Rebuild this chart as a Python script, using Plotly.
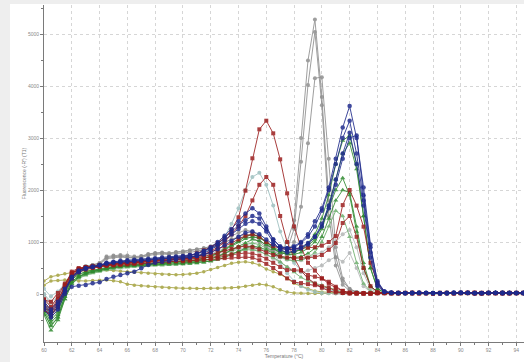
import plotly.graph_objects as go

temperature = [60.0, 60.5, 61.0, 61.5, 62.0, 62.5, 63.0, 63.5, 64.0, 64.5,
               65.0, 65.5, 66.0, 66.5, 67.0, 67.5, 68.0, 68.5, 69.0, 69.5,
               70.0, 70.5, 71.0, 71.5, 72.0, 72.5, 73.0, 73.5, 74.0, 74.5,
               75.0, 75.5, 76.0, 76.5, 77.0, 77.5, 78.0, 78.5, 79.0, 79.5,
               80.0, 80.5, 81.0, 81.5, 82.0, 82.5, 83.0, 83.5, 84.0, 84.5,
               85.0, 85.5, 86.0, 86.5, 87.0, 87.5, 88.0, 88.5, 89.0, 89.5,
               90.0, 90.5, 91.0, 91.5, 92.0, 92.5, 93.0, 93.5, 94.0, 94.5, 95.0]

olive_1 = [250, 333, 360, 390, 420, 440, 450, 455, 460, 460, 450, 440, 430, 420, 410, 400, 390, 380, 375, 370,
           375, 385, 400, 430, 470, 510, 550, 590, 610, 620, 600, 560, 480, 430, 380, 300, 205, 150, 100, 60,
           40, 30, 20, 15, 10, 10, 10, 10, 15, 20, 15, 10, 15, 20, 15, 10, 15, 20, 25, 20, 15, 10, 15, 20, 15, 10, 15, 20, 15, 10, 15]
olive_2 = [170, 250, 260, 270, 260, 250, 250, 260, 265, 270, 255, 236, 190, 170, 160, 150, 140, 130, 122, 115,
           110, 110, 105, 105, 110, 110, 115, 120, 130, 150, 170, 190, 173, 140, 80, 40, 20, 15, 10, 10,
           10, 10, 10, 10, 10, 10, 10, 10, 10, 15, 20, 15, 10, 15, 20, 15, 10, 15, 20, 15, 10, 15, 20, 25, 20, 15, 10, 15, 20, 15, 10]
gray_4 = [-50, -250, -150, 100, 300, 420, 480, 520, 540, 580, 600, 620, 630, 640, 650, 660, 670, 680, 690, 700,
          710, 720, 730, 740, 760, 790, 830, 870, 900, 930, 920, 880, 820, 760, 700, 660, 640, 650, 700, 750,
          800, 900, 1000, 1150, 1230, 900, 400, 100, 30, 20, 15, 20, 25, 20, 15, 10, 20, 25, 20, 15, 20, 25, 30, 25, 20, 15, 20, 25, 30, 25, 20]
gray_5 = [0, -200, -100, 150, 330, 430, 480, 510, 530, 560, 580, 590, 600, 610, 620, 630, 640, 650, 650, 660,
          670, 680, 690, 700, 720, 750, 780, 820, 860, 880, 870, 830, 760, 680, 600, 520, 450, 420, 450, 500,
          550, 650, 710, 620, 790, 500, 150, 40, 20, 15, 20, 25, 20, 15, 20, 15, 10, 15, 20, 25, 20, 15, 20, 15, 20, 25, 30, 25, 20, 15, 20]
teal_1 = [0, -150, -50, 150, 330, 420, 470, 500, 520, 550, 570, 580, 590, 600, 610, 620, 630, 640, 650, 660,
          680, 700, 740, 800, 860, 950, 1100, 1350, 1650, 2000, 2250, 2330, 2100, 1700, 1200, 850, 600, 450, 300, 200,
          120, 80, 50, 30, 20, 15, 10, 10, 10, 15, 20, 15, 10, 15, 20, 15, 20, 25, 20, 15, 10, 15, 20, 15, 10, 15, 20, 25, 20, 15, 10]
teal_2 = [100, -50, 50, 200, 350, 430, 480, 500, 520, 540, 560, 570, 580, 590, 600, 610, 620, 630, 640, 650,
          660, 680, 700, 730, 770, 820, 880, 950, 1020, 1100, 1150, 1100, 980, 800, 600, 400, 250, 150, 80, 40,
          20, 15, 10, 10, 10, 10, 10, 10, 15, 20, 15, 10, 15, 20, 25, 20, 15, 10, 15, 20, 15, 20, 25, 20, 15, 10, 15, 20, 15, 10, 15]
gray_1 = [-100, -380, -250, 80, 330, 470, 540, 560, 580, 700, 720, 730, 710, 700, 720, 760, 780, 790, 770, 800,
          810, 830, 850, 880, 920, 980, 1050, 1120, 1180, 1230, 1200, 1120, 980, 860, 780, 1000, 1420, 3000, 4490, 5280,
          3790, 1800, 700, 250, 90, 40, 25, 20, 20, 15, 10, 15, 20, 15, 10, 15, 20, 15, 10, 15, 20, 25, 20, 15, 10, 15, 20, 15, 10, 15, 20]
gray_2 = [-200, -450, -300, 30, 300, 450, 520, 550, 570, 680, 700, 710, 700, 690, 700, 740, 760, 770, 760, 780,
          790, 800, 820, 850, 880, 930, 990, 1050, 1100, 1150, 1120, 1050, 920, 800, 720, 850, 1250, 2545, 4020, 5040,
          3630, 1500, 550, 180, 60, 30, 20, 15, 15, 20, 25, 20, 15, 10, 15, 20, 15, 10, 15, 20, 25, 20, 15, 20, 25, 20, 15, 10, 15, 20, 15]
gray_3 = [-150, -300, -200, 100, 350, 480, 520, 560, 600, 720, 740, 750, 740, 720, 730, 770, 790, 800, 790, 810,
          820, 840, 860, 880, 900, 950, 1000, 1050, 1080, 1100, 1080, 1000, 900, 820, 760, 800, 1000, 1680, 2900, 4150,
          4170, 2600, 900, 300, 100, 40, 20, 15, 20, 25, 20, 15, 20, 25, 30, 25, 20, 15, 20, 25, 20, 15, 10, 15, 20, 25, 20, 15, 20, 25, 20]
green_6 = [-350, -600, -450, -100, 200, 300, 360, 400, 430, 460, 480, 500, 510, 520, 530, 540, 550, 550, 560, 560,
           570, 580, 590, 610, 640, 680, 730, 780, 820, 850, 850, 820, 760, 700, 620, 520, 420, 320, 250, 210,
           170, 120, 80, 40, 20, 10, 10, 10, 15, 20, 15, 10, 15, 20, 15, 20, 25, 20, 15, 10, 15, 20, 15, 10, 15, 20, 25, 20, 15, 10, 15]
green_5 = [-200, -400, -250, 50, 280, 370, 420, 450, 480, 500, 510, 520, 530, 540, 550, 560, 570, 580, 590, 600,
           610, 620, 630, 650, 680, 720, 780, 840, 900, 950, 980, 950, 880, 800, 720, 660, 640, 650, 700, 800,
           1000, 1300, 1600, 1500, 1100, 600, 200, 50, 20, 15, 20, 15, 10, 15, 20, 25, 20, 15, 20, 15, 10, 15, 20, 15, 20, 25, 20, 15, 10, 15, 20]
green_4 = [-300, -550, -400, -50, 230, 340, 400, 440, 470, 490, 510, 520, 530, 540, 550, 560, 560, 570, 570, 580,
           580, 590, 600, 610, 630, 660, 700, 760, 820, 880, 920, 900, 850, 780, 720, 700, 700, 720, 780, 880,
           1100, 1450, 1800, 2000, 1950, 1300, 600, 150, 40, 20, 15, 20, 25, 20, 15, 10, 15, 20, 15, 20, 25, 20, 15, 10, 15, 20, 15, 10, 15, 20, 15]
green_3 = [-400, -700, -500, -100, 200, 320, 380, 420, 450, 480, 510, 530, 540, 550, 560, 570, 580, 580, 590, 600,
           600, 610, 620, 640, 670, 720, 780, 850, 920, 980, 1050, 1020, 950, 870, 800, 760, 760, 800, 880, 1000,
           1250, 1650, 2000, 2230, 1900, 1200, 500, 150, 40, 25, 20, 15, 20, 25, 20, 15, 20, 25, 30, 25, 20, 15, 20, 15, 10, 15, 20, 25, 20, 15, 20]
green_2 = [-250, -500, -350, 0, 280, 380, 430, 460, 480, 510, 530, 540, 550, 560, 570, 580, 590, 590, 600, 610,
           620, 630, 650, 680, 720, 780, 850, 930, 1000, 1060, 1100, 1080, 1000, 900, 830, 800, 810, 850, 930, 1050,
           1300, 1700, 2200, 2700, 2900, 2400, 1500, 500, 100, 30, 20, 15, 20, 25, 20, 15, 20, 15, 10, 15, 20, 25, 20, 15, 20, 25, 20, 15, 20, 15, 10]
green_1 = [-350, -620, -450, -50, 250, 330, 400, 430, 460, 500, 530, 550, 560, 570, 580, 590, 600, 600, 610, 620,
           630, 640, 660, 690, 730, 790, 860, 940, 1020, 1100, 1150, 1100, 1000, 880, 800, 780, 800, 870, 980, 1150,
           1450, 1900, 2500, 2950, 3050, 2500, 1500, 500, 100, 30, 25, 20, 15, 20, 25, 20, 15, 20, 25, 20, 15, 10, 15, 20, 25, 30, 25, 20, 15, 20, 25]
red_6 = [-300, -420, -250, 50, 300, 420, 470, 500, 520, 540, 550, 560, 570, 580, 590, 600, 610, 620, 620, 630,
         630, 640, 650, 660, 670, 680, 690, 700, 710, 710, 700, 650, 580, 500, 400, 300, 230, 210, 190, 170,
         150, 120, 60, 20, 10, 10, 10, 10, 15, 20, 15, 10, 15, 20, 25, 20, 15, 20, 15, 10, 15, 20, 15, 20, 25, 20, 15, 10, 15, 20, 15]
red_5 = [-100, -250, -50, 200, 400, 480, 520, 540, 560, 570, 580, 590, 600, 610, 620, 630, 640, 650, 650, 660,
         660, 670, 680, 690, 700, 720, 740, 760, 780, 790, 780, 740, 680, 600, 520, 460, 460, 460, 365, 333,
         300, 236, 140, 60, 20, 10, 10, 10, 20, 15, 10, 15, 20, 25, 20, 15, 10, 15, 20, 15, 20, 25, 20, 15, 20, 15, 10, 15, 20, 15, 20]
red_4 = [-300, -400, -200, 100, 350, 450, 500, 520, 540, 560, 570, 580, 590, 600, 610, 620, 630, 640, 650, 660,
         670, 680, 700, 720, 750, 790, 830, 870, 900, 920, 900, 860, 800, 750, 720, 700, 690, 690, 700, 710,
         750, 850, 980, 1365, 1500, 1100, 500, 150, 40, 20, 15, 20, 25, 20, 15, 20, 15, 10, 15, 20, 25, 20, 15, 10, 15, 20, 15, 20, 25, 20, 15]
red_3 = [-250, -350, -150, 150, 400, 480, 510, 530, 550, 570, 590, 600, 610, 620, 630, 640, 650, 660, 670, 680,
         690, 700, 720, 750, 800, 860, 920, 980, 1050, 1120, 1150, 1100, 1000, 920, 880, 860, 870, 880, 890, 900,
         930, 1000, 1115, 1710, 2000, 1700, 1295, 600, 210, 40, 20, 15, 20, 25, 20, 15, 10, 15, 20, 15, 20, 25, 30, 25, 20, 15, 20, 15, 20, 25, 20]
red_2 = [-200, -300, -100, 150, 380, 480, 500, 520, 540, 560, 570, 580, 590, 600, 610, 620, 630, 640, 650, 660,
         670, 690, 720, 760, 820, 900, 1000, 1150, 1300, 1500, 1800, 2100, 2250, 2100, 1500, 1000, 700, 450, 300, 200,
         120, 60, 30, 20, 15, 10, 10, 10, 15, 20, 25, 20, 15, 10, 15, 20, 15, 20, 25, 20, 15, 20, 15, 10, 15, 20, 25, 20, 15, 20, 15]
red_1 = [-115, -150, 20, 175, 430, 500, 520, 510, 540, 560, 580, 600, 610, 620, 640, 650, 660, 680, 690, 700,
         720, 740, 780, 840, 900, 980, 1080, 1230, 1475, 1987, 2610, 3167, 3333, 3090, 2590, 1936, 1300, 900, 600, 450,
         300, 200, 120, 60, 30, 20, 15, 10, 20, 15, 20, 25, 20, 15, 10, 15, 20, 25, 20, 15, 20, 15, 10, 15, 20, 15, 20, 25, 20, 15, 10]
blue_4 = [-150, -300, -150, 100, 330, 450, 500, 520, 550, 580, 600, 610, 620, 630, 640, 650, 660, 670, 680, 690,
          700, 710, 730, 760, 800, 860, 940, 1020, 1100, 1180, 1200, 1150, 1050, 950, 880, 850, 860, 900, 980, 1100,
          1300, 1650, 2100, 2600, 3000, 3050, 1900, 900, 250, 50, 25, 20, 15, 20, 25, 20, 15, 20, 25, 30, 25, 20, 15, 20, 25, 20, 15, 20, 25, 20, 15]
blue_3 = [-300, -450, -300, 0, 140, 160, 175, 205, 225, 290, 330, 365, 400, 430, 495, 560, 600, 620, 640, 660,
          680, 700, 730, 780, 850, 930, 1030, 1150, 1250, 1350, 1400, 1350, 1200, 1000, 850, 800, 820, 880, 950, 1100,
          1350, 1700, 2200, 2700, 3100, 2500, 1700, 700, 150, 40, 20, 15, 20, 25, 20, 15, 20, 15, 10, 15, 20, 25, 20, 15, 20, 25, 30, 25, 20, 15, 20]
blue_2 = [-200, -350, -200, 80, 320, 440, 500, 530, 560, 590, 610, 620, 630, 640, 650, 660, 670, 680, 690, 700,
          720, 740, 770, 820, 880, 960, 1080, 1200, 1320, 1420, 1500, 1450, 1250, 1050, 920, 880, 900, 980, 1100, 1300,
          1600, 2000, 2500, 3000, 3330, 2700, 1800, 800, 180, 40, 25, 20, 15, 20, 25, 20, 15, 10, 15, 20, 25, 20, 15, 20, 25, 20, 15, 20, 15, 20, 25]
blue_1 = [-250, -400, -250, 50, 300, 420, 480, 520, 560, 600, 620, 640, 650, 660, 670, 680, 690, 700, 710, 720,
          730, 750, 780, 830, 900, 1000, 1120, 1250, 1400, 1550, 1650, 1550, 1300, 1050, 900, 880, 920, 1000, 1150, 1400,
          1650, 2050, 2600, 3200, 3615, 3000, 2050, 950, 220, 50, 30, 25, 20, 15, 20, 25, 20, 15, 20, 25, 30, 25, 20, 15, 20, 25, 20, 15, 20, 25, 20]

C_OLIVE = "#a3a13c"
C_GRAY = "#8e8e8e"
C_LGRAY = "#b3b6b6"
C_TEAL = "#9cbfbf"
C_GREEN = "#2f8a2f"
C_LGREEN = "#6cae6c"
C_RED = "#9b1d1d"
C_BLUE = "#1e2a8c"

series = [
    (olive_1, C_OLIVE, "circle", 3.5),
    (olive_2, C_OLIVE, "circle", 3.5),
    (gray_4, C_LGRAY, "circle", 4),
    (gray_5, C_LGRAY, "circle", 4),
    (teal_1, C_TEAL, "circle", 4),
    (teal_2, C_TEAL, "circle", 4),
    (gray_1, C_GRAY, "circle", 4),
    (gray_2, C_GRAY, "circle", 4),
    (gray_3, C_GRAY, "circle", 4),
    (green_6, C_LGREEN, "triangle-up", 4.5),
    (green_5, C_LGREEN, "triangle-up", 4.5),
    (green_4, C_GREEN, "triangle-up", 4.5),
    (green_3, C_GREEN, "triangle-up", 4.5),
    (green_2, C_GREEN, "triangle-up", 4.5),
    (green_1, C_GREEN, "triangle-up", 4.5),
    (red_6, C_RED, "square", 4),
    (red_5, C_RED, "square", 4),
    (red_4, C_RED, "square", 4),
    (red_3, C_RED, "square", 4),
    (red_2, C_RED, "square", 4),
    (red_1, C_RED, "square", 4),
    (blue_4, C_BLUE, "circle", 4.5),
    (blue_3, C_BLUE, "circle", 4.5),
    (blue_2, C_BLUE, "circle", 4.5),
    (blue_1, C_BLUE, "circle", 4.5),
]

fig = go.Figure()
for values, color, symbol, size in series:
    fig.add_trace(go.Scatter(
        x=temperature, y=values, mode="lines+markers",
        line=dict(color=color, width=1),
        marker=dict(color=color, symbol=symbol, size=size, line=dict(width=0)),
        opacity=0.85, showlegend=False, hoverinfo="skip",
    ))

W, H = 524, 362
ML, MR, MT, MB = 44, 0, 5, 20
pw, ph = W - ML - MR, H - MT - MB

def px_x(p):
    return (p - ML) / pw

def px_y(p):
    return (H - MB - p) / ph

fig.add_shape(type="rect", xref="paper", yref="paper",
              x0=px_x(0), x1=px_x(10), y0=px_y(H), y1=px_y(0),
              fillcolor="#eeeeee", line=dict(width=0), layer="below")
fig.add_shape(type="rect", xref="paper", yref="paper",
              x0=px_x(0), x1=px_x(W), y0=px_y(4), y1=px_y(0),
              fillcolor="#eeeeee", line=dict(width=0), layer="below")

FONT = "Liberation Sans, Arial, sans-serif"
tick_font = dict(family=FONT, size=5, color="#8a8a8a")

fig.update_layout(
    width=W, height=H,
    margin=dict(l=ML, r=MR, t=MT, b=MB),
    paper_bgcolor="white", plot_bgcolor="white",
    font=tick_font,
    xaxis=dict(
        range=[60, 94.55], tick0=60, dtick=2, showgrid=True,
        gridcolor="#d6d6d6", griddash="dot", gridwidth=1,
        zeroline=False, showline=True, linecolor="#7a7a7a", linewidth=1,
        ticks="outside", ticklen=3, tickcolor="#7a7a7a", tickfont=tick_font,
        minor=dict(dtick=1, ticks="outside", ticklen=2, tickcolor="#7a7a7a", showgrid=False),
        title=dict(text="Temperature (°C)", font=dict(family=FONT, size=5, color="#777"), standoff=2),
    ),
    yaxis=dict(
        range=[-923, 5558], tick0=0, dtick=1000, showgrid=True,
        gridcolor="#d6d6d6", griddash="dot", gridwidth=1,
        zeroline=False, showline=True, linecolor="#7a7a7a", linewidth=1,
        ticks="outside", ticklen=3, tickcolor="#7a7a7a", tickfont=tick_font,
        minor=dict(dtick=500, ticks="outside", ticklen=2, tickcolor="#7a7a7a", showgrid=False),
        title=dict(text="Fluorescence (-R') (T1)", font=dict(family=FONT, size=5, color="#777"), standoff=1),
    ),
)

fig.write_html("out.html", config={"displayModeBar": False},
               post_script="document.body.style.margin='0';document.body.style.padding='0';")
